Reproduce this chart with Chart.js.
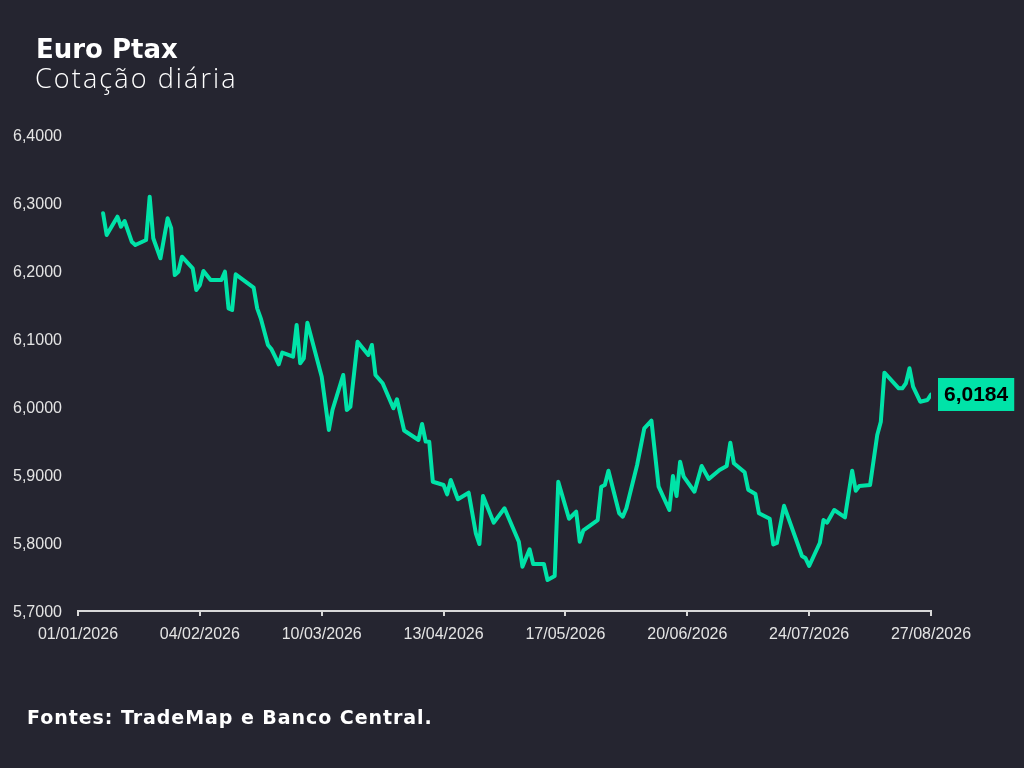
<!DOCTYPE html>
<html lang="pt-BR">
<head>
<meta charset="utf-8">
<title>Euro Ptax</title>
<script src="https://cdn.jsdelivr.net/npm/chart.js@4/dist/chart.umd.min.js"></script>
<style>
  html, body { margin: 0; padding: 0; background: #252530; }
  body { width: 1024px; height: 768px; position: relative; overflow: hidden; }
  #wrap { position: absolute; left: 0; top: 0; width: 1024px; height: 768px; }
  .titulo { position: absolute; left: 36px; top: 34px; line-height: 1; color: #fff; font: 700 26px "DejaVu Sans", sans-serif; }
  .sub { position: absolute; left: 35px; top: 59px; color: #fff; font: 300 27px "Open Sans", sans-serif; letter-spacing: 2.1px; }
  .fonte { position: absolute; left: 27px; top: 706px; line-height: 1; color: #fff; font: 700 19px "DejaVu Sans", sans-serif; letter-spacing: 0.95px; }
</style>
</head>
<body>
<div id="wrap"><canvas id="chart" width="1024" height="768"></canvas></div>
<div class="titulo">Euro Ptax</div>
<div class="sub">Cotação diária</div>
<div class="fonte">Fontes: TradeMap e Banco Central.</div>
<script>
// datas (dd/mm de 2026) e cotações
const datas = [
  '08/01','09/01','12/01','13/01','14/01','16/01','17/01','20/01','21/01','22/01',
  '24/01','26/01','27/01','28/01','29/01','30/01','02/02','03/02','04/02','05/02',
  '07/02','10/02','11/02','12/02','13/02','14/02','19/02','20/02','21/02','23/02',
  '24/02','25/02','26/02','27/02','02/03','03/03','04/03','05/03','06/03','10/03',
  '12/03','13/03','16/03','17/03','18/03','20/03','23/03','24/03','25/03','27/03',
  '30/03','31/03','02/04','06/04','07/04','08/04','09/04','10/04','13/04','14/04',
  '15/04','17/04','20/04','22/04','23/04','24/04','27/04','30/04','04/05','05/05',
  '07/05','08/05','11/05','12/05','14/05','15/05','18/05','20/05','21/05','22/05',
  '26/05','27/05','28/05','29/05','01/06','02/06','03/06','06/06','08/06','10/06',
  '12/06','15/06','16/06','17/06','18/06','19/06','22/06','24/06','26/06','29/06',
  '01/07','02/07','03/07','06/07','07/07','09/07','10/07','13/07','14/07','15/07',
  '17/07','22/07','23/07','24/07','27/07','28/07','29/07','31/07','03/08','05/08',
  '06/08','07/08','10/08','12/08','13/08','14/08','18/08','19/08','20/08','21/08',
  '22/08','24/08','26/08','27/08'
];
const cotacoes = [
  6.2849, 6.2529, 6.2799, 6.2651, 6.2735, 6.2431, 6.2382, 6.2456, 6.3093, 6.2481,
  6.2187, 6.2775, 6.2628, 6.1941, 6.1990, 6.2210, 6.2040, 6.1721, 6.1794, 6.2000,
  6.1868, 6.1868, 6.1990, 6.1451, 6.1426, 6.1951, 6.1757, 6.1451, 6.1304, 6.0912,
  6.0849, 6.0740, 6.0628, 6.0799, 6.0740, 6.1206, 6.0643, 6.0716, 6.1240, 6.0446,
  5.9662, 5.9956, 6.0471, 5.9956, 6.0004, 6.0960, 6.0765, 6.0912, 6.0471, 6.0349,
  5.9981, 6.0113, 5.9654, 5.9515, 5.9750, 5.9493, 5.9490, 5.8901, 5.8853, 5.8716,
  5.8926, 5.8643, 5.8740, 5.8143, 5.7985, 5.8691, 5.8299, 5.8510, 5.8019, 5.7651,
  5.7907, 5.7691, 5.7691, 5.7456, 5.7515, 5.8901, 5.8357, 5.8460, 5.8019, 5.8187,
  5.8338, 5.8828, 5.8853, 5.9063, 5.8437, 5.8387, 5.8510, 5.9147, 5.9687, 5.9799,
  5.8828, 5.8485, 5.8985, 5.8691, 5.9196, 5.8975, 5.8754, 5.9132, 5.8941, 5.9074,
  5.9132, 5.9475, 5.9172, 5.9041, 5.8784, 5.8721, 5.8437, 5.8356, 5.7978, 5.8000,
  5.8547, 5.7809, 5.7775, 5.7662, 5.8004, 5.8338, 5.8299, 5.8485, 5.8378, 5.9063,
  5.8769, 5.8838, 5.8853, 5.9588, 5.9784, 6.0504, 6.0275, 6.0275, 6.0349, 6.0569,
  6.0299, 6.0078, 6.0103, 6.0184
];
const yMin = 5.7, yMax = 6.4, yStep = 0.1;
const xTicks = ['01/01/2026','04/02/2026','10/03/2026','13/04/2026','17/05/2026','20/06/2026','24/07/2026','27/08/2026'];

const VERDE = '#00e3a8';
const ano = 2026;
const base = Date.UTC(ano, 0, 1);
const dia = s => {
  const [d, m, a] = s.split('/').map(Number);
  return Math.round((Date.UTC(a || ano, m - 1, d) - base) / 86400000);
};
const pontos = datas.map((d, i) => ({ x: dia(d), y: cotacoes[i] }));
const tickDias = xTicks.map(dia);
const fmt = v => v.toFixed(4).replace('.', ',');

const rotuloFinal = {
  id: 'rotuloFinal',
  afterDatasetsDraw(chart) {
    const meta = chart.getDatasetMeta(0);
    const p = meta.data[meta.data.length - 1];
    const ctx = chart.ctx;
    const txt = fmt(cotacoes[cotacoes.length - 1]);
    ctx.save();
    ctx.font = 'bold 21px "Liberation Sans", Arial, sans-serif';
    const w = ctx.measureText(txt).width + 12, h = 33;
    const x0 = p.x + 7, y0 = p.y - h / 2;
    ctx.fillStyle = VERDE;
    ctx.fillRect(x0, y0, w, h);
    ctx.fillStyle = '#000';
    ctx.textAlign = 'center';
    ctx.textBaseline = 'middle';
    ctx.fillText(txt, x0 + w / 2, p.y + 1);
    ctx.restore();
  }
};

new Chart(document.getElementById('chart'), {
  type: 'line',
  data: {
    datasets: [{
      data: pontos,
      borderColor: VERDE,
      borderWidth: 4,
      pointRadius: 0,
      tension: 0,
      borderJoinStyle: 'round',
      borderCapStyle: 'round'
    }]
  },
  options: {
    responsive: false,
    animation: false,
    devicePixelRatio: 1,
    layout: { padding: { top: 135, left: 13, right: 93, bottom: 0 } },
    plugins: { legend: { display: false }, tooltip: { enabled: false } },
    scales: {
      x: {
        type: 'linear',
        min: tickDias[0],
        max: tickDias[tickDias.length - 1],
        afterBuildTicks: s => { s.ticks = tickDias.map(v => ({ value: v })); },
        afterFit: s => { s.height = 157; },
        ticks: {
          color: '#e4e4e4',
          font: { family: '"Liberation Sans", Arial, sans-serif', size: 16 },
          padding: 9,
          maxRotation: 0,
          autoSkip: false,
          callback: (v, i) => xTicks[i]
        },
        grid: { drawOnChartArea: false, drawTicks: true, tickLength: 5, color: '#d8d8d8', lineWidth: 2 },
        border: { display: true, color: '#d8d8d8', width: 2 }
      },
      y: {
        min: yMin,
        max: yMax,
        afterFit: s => { s.width = 65; },
        ticks: {
          stepSize: yStep,
          color: '#e4e4e4',
          crossAlign: 'far',
          labelOffset: 2,
          font: { family: '"Liberation Sans", Arial, sans-serif', size: 16 },
          callback: v => fmt(v)
        },
        grid: { display: false },
        border: { display: false }
      }
    }
  },
  plugins: [rotuloFinal]
});
</script>
</body>
</html>
